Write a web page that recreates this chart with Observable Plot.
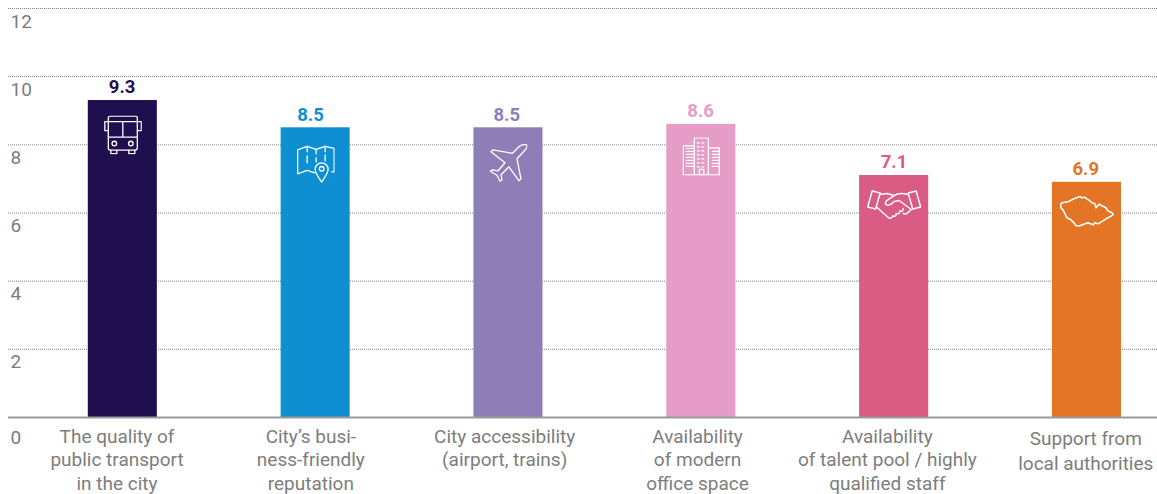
<!DOCTYPE html>
<html><head><meta charset="utf-8">
<style>html,body{margin:0;padding:0;background:#fff}svg{display:block}</style>
<script src="https://cdn.jsdelivr.net/npm/d3@7"></script>
<script src="https://cdn.jsdelivr.net/npm/@observablehq/plot@0.6"></script>
</head><body><div id="chart"></div>
<script>
const categories = ["transport","reputation","accessibility","office","talent","authorities"];
const values = [9.3,8.5,8.5,8.6,7.1,6.9];
const valueLabels = ["9.3","8.5","8.5","8.6","7.1","6.9"];
const colors = ["#1f0f4e","#0e8fd1","#8d7eb8","#e59dc7","#da5b83","#e57526"];
const axisLabels = [
  "The quality of\npublic transport\nin the city",
  "City’s busi-\nness-friendly\nreputation",
  "City accessibility\n(airport, trains)",
  "Availability\nof modern\noffice space",
  "Availability\nof talent pool / highly\nqualified staff",
  "Support from\nlocal authorities"
];
const yTicks = [2,4,6,8,10,12];

const S = 'fill="none" stroke="#fff" stroke-width="1.3" stroke-linejoin="round" stroke-linecap="round"';
const wrap = (w,h,body)=>"data:image/svg+xml;utf8,"+encodeURIComponent(`<svg xmlns="http://www.w3.org/2000/svg" width="${w}" height="${h}" viewBox="0 0 ${w} ${h}"><g ${S}>${body}</g></svg>`);
const windows = (x,y0,y1,w)=>{let s="";for(let y=y0;y<=y1;y+=3)s+=`<path d="M${x} ${y}h${w}" stroke-width="1.2"/>`;return s;};
const icons = [
 {w:38,h:39,dy:34.5,src:wrap(38,39,`<rect x="4.5" y="0.5" width="29" height="34" rx="2"/><path d="M4.5 6H33.5M4.5 21.5H33.5M19 6V21.5"/><circle cx="10.5" cy="28" r="2.3"/><circle cx="27" cy="28" r="2.3"/><path d="M4.5 6H1V15H4.5M33.5 6H37.5V15H33.5M7 34.5V38H13V34.5M25 34.5V38H31V34.5"/>`)},
 {w:38,h:38,dy:36,src:wrap(38,38,`<path d="M18 28L10.5 25.500L1 29V5L10.500 1.500L19.500 4.500L28.500 1.500L37.500 3.500V27H35"/><path d="M10.500 1.500V7M10.500 11V18M19.500 4.500V9M19.500 13V17M28.500 1.500V7M28.500 10V16"/><path d="M25 37.500C22 32 18.500 28.500 18.500 24.500A6.500 6.500 0 0 1 31.500 24.500C31.500 28.500 28 32 25 37.500Z"/><circle cx="25" cy="24" r="2.300"/>`)},
 {w:38,h:38,dy:35,src:wrap(38,38,`<path d="M30 2.500C33 .5 37 .5 37.500 1.500C38 3.500 36 6 34 8L27.500 15L31.500 35L29.500 37L19.500 23L11.500 31L12.500 36L10.500 37.500L7.500 31.500L1 27.500L3 26L8.500 27L15.500 19L1.500 8L3.500 6L23 9.500Z"/>`)},
 {w:38,h:38,dy:32,src:wrap(38,38,`<path d="M.5 37.500H37.500M1 37.500V8.500H12M37 37.500V10.500H26M12 37.500V.5H26V37.500"/><rect x="17" y="32" width="4.500" height="5.500"/>${windows(4,11,29,7)}${windows(30,14,29,6)}<path d="M15 5.500H23.500M15 9.500H23.500M15 13.500H23.500M15 17.500H23.500M15 21.500H23.500M15 25.500H23.500M15 29.500H23.500" stroke-dasharray="2 2.500" stroke-width="1.200"/>`)},
 {w:54,h:30,dy:29,src:wrap(54,30,`<path stroke-width="1.500" d="M5 1.500L13 3.500L8.500 19.500L.5 17.500ZM41 3.500L49 1.500L53.500 17.500L45.500 19.500Z"/><path stroke-width="1.500" d="M12.500 5L20 4L27 6L21 10C18 12 17.500 14 19 15C21 16.500 24 15 27 12L32 11L44 20"/><path stroke-width="1.500" d="M27 6C31 3.500 36 3.500 40.500 5M10 18L21 28C23.500 29.500 25.500 28 25.500 26.500C27.500 27.500 29.500 26 29 24C31 25 33 23.500 32.500 21.500C34.500 22.500 36.500 21 36 19M36 24C38 25 41 23.500 43.500 20.500"/>`)},
 {w:54,h:31,dy:29,src:wrap(54,31,`<path stroke-width="1.600" d="M.5 8.500L2 7L8 6L14 3L18 1.500L20 .5L22 2L25 1.500L27 3L30 5L32 7L35 8L36 12L39 8.500L42 10L46 12L48 15L52 17L53.500 18.500L50 21L46 23L43 25L38 28L35 27L33 29L28 27L25 28L20 30L16 30L14 27L11 24L7 22L5 18L3 14L1 12Z"/>`)}
];

const data = categories.map((c,i)=>({c,v:values[i],lab:valueLabels[i],color:colors[i],axis:axisLabels[i]}));
const gridColor = "#7f7f7f", textColor = "#7d7d7d";
const labelShift = [-5.8,-4.8,-3.8,-3.8,-6.8,-1.2];
const valueShift = [-0.7,-5.2,-1.7,-0.7,-0.2,-1.2];

const chart = Plot.plot({
  width:1157, height:494,
  marginTop:8, marginBottom:77, marginLeft:8, marginRight:0,
  style:{fontFamily:"Roboto, sans-serif", background:"#fff"},
  x:{type:"band", domain:categories, range:[25.9,1182.9], paddingInner:0.642, paddingOuter:0.321, round:false, axis:null},
  y:{domain:[0,12], range:[417,8], axis:null},
  marks:[
    Plot.ruleY(yTicks,{stroke:gridColor,strokeWidth:1,strokeDasharray:"1 1"}),
    Plot.barY(data,{x:"c",y:"v",fill:"color"}),
    Plot.ruleY([0],{stroke:"#9a9a9a",strokeWidth:2}),
    Plot.text(yTicks,{y:d=>d,text:String,frameAnchor:"left",dx:2,dy:13,fontSize:19,fill:textColor}),
    Plot.text([0],{y:d=>d,text:String,frameAnchor:"left",dx:2,dy:20,fontSize:19,fill:textColor}),
    ...data.map((d,i)=>Plot.text([d],{x:"c",y:"v",text:"lab",dx:valueShift[i],dy:-13,fontSize:18.5,fontWeight:700,fill:"color"})),
    ...icons.map((ic,i)=>Plot.image([data[i]],{x:"c",y:"v",src:()=>ic.src,width:ic.w,height:ic.h,dy:ic.dy})),
    ...data.map((d,i)=>Plot.text([d],{x:"c",y:()=>0,text:"axis",dx:labelShift[i],dy:i===5?10:8.5,lineAnchor:"top",lineHeight:i===5?1.32:1.245,fontSize:19,fill:textColor}))
  ]
});
document.getElementById("chart").append(chart);
</script></body></html>
